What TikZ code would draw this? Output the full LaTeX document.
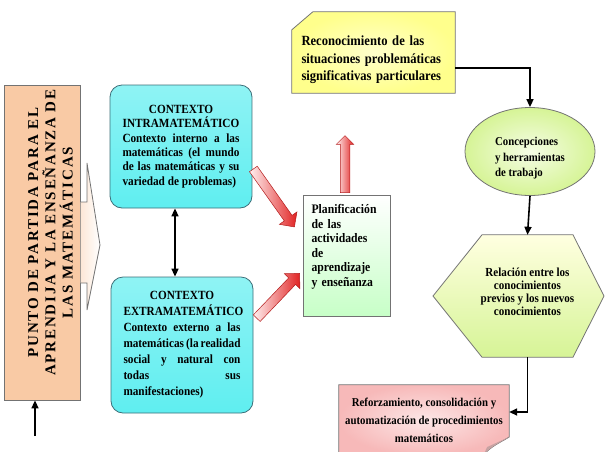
\documentclass[tikz,border=0pt]{standalone}
\usepackage{fontspec}
\setmainfont{Liberation Serif}[FakeStretch=0.9]
\newfontfamily\spacedfont{Liberation Serif}[LetterSpace=12]
\usetikzlibrary{arrows.meta,shapes.arrows,shapes.geometric,calc,backgrounds}
\definecolor{peach}{RGB}{249,202,165}
\definecolor{cyanbox}{RGB}{95,238,240}
\definecolor{cyanline}{RGB}{60,110,120}
\definecolor{yelbox}{RGB}{255,255,140}
\definecolor{limebox}{RGB}{214,244,150}
\definecolor{pinkbox}{RGB}{247,185,185}
\definecolor{arrred}{RGB}{225,35,35}
\begin{document}
\begin{tikzpicture}[x=1pt,y=-1pt,font=\bfseries\fontsize{12.5}{14.3}\selectfont,
  box/.style={draw=black!55,line width=.8pt},
  cbox/.style={box,draw=cyanline,rounded corners=12pt,top color=cyanbox!70!white,bottom color=cyanbox,minimum width=142pt,text width=117pt,align=justify},
  conn/.style={line width=1.6pt,-{Triangle[length=8pt,width=7pt]}},
  fat/.style={single arrow,draw=arrred!80!black,line width=.5pt,left color=red!6,right color=arrred,inner sep=4.5pt,single arrow head extend=6pt}]
\useasboundingbox (0,0) rectangle (605,451);

% punto de partida
\node[box,fill=peach,minimum width=59pt,minimum height=315pt] (punto) at (42.5,242.5)
  {\rotatebox{90}{\hspace*{20pt}\spacedfont\bfseries\fontsize{15}{15.5}\selectfont\def\arraystretch{0.92}\begin{tabular}{@{}c@{}}\rule{0pt}{30pt}PUNTO DE PARTIDA PARA EL\\ APRENDIJA Y LA ENSEÑANZA DE\\ LAS MATEMÁTICAS\end{tabular}}};
\draw[box,left color=peach!45,right color=white] (punto.east |- 0,202) -- (87,202) -- (87,163) -- (100,245) -- (87,310) -- (87,283) -- (punto.east |- 0,283);
\coordinate (foot) at (35,436);
\draw[conn] (foot) -- (foot |- punto.south);

% contextos
\node[cbox,minimum height=123pt] (intra) at (181,146.5) {{\centering CONTEXTO\\ INTRAMATEMÁTICO\par}Contexto interno a las\linebreak matemáticas (el mundo\linebreak de las matemáticas y su\linebreak variedad de problemas)};
\node[cbox,minimum height=136pt,font=\bfseries\fontsize{12.5}{16}\selectfont] (extra) at (182,345) {{\centering CONTEXTO\\ EXTRAMATEMÁTICO\par}Contexto externo a las\linebreak matemáticas (la realidad\linebreak social y natural con\linebreak todas sus\linebreak manifestaciones)};
\draw[line width=1.6pt,{Triangle[length=8pt,width=7pt]}-{Triangle[length=8pt,width=7pt]}] ([xshift=-6pt]intra.south) -- ([xshift=-6pt]intra.south |- extra.north);

% planificacion
\node[box,shading angle=30,top color=white,bottom color=green!22,minimum width=87pt,minimum height=121pt,text width=70pt,align=left,font=\bfseries\fontsize{13}{14.5}\selectfont] (plan) at (346.5,255.5) {Planificación\\ de las\\ actividades\\ de\\ aprendizaje\\ y enseñanza\rule[-20pt]{0pt}{20pt}};
\node[fat,minimum height=71pt,rotate=-54.7] (arrA) at (272.5,196) {};
\node[fat,minimum height=62pt,rotate=46.3] (arrB) at (276.5,297.5) {};
\node[fat,minimum height=57pt,rotate=90,single arrow head extend=4pt] (arrC) at (345,166.5) {};

% reconocimiento
\node[minimum width=163pt,minimum height=81pt,text width=148pt,align=left,font=\bfseries\fontsize{14}{17.5}\selectfont] (recon) at (375.5,52.5) {\rule{0pt}{25pt}Reconocimiento de las\\ situaciones problemáticas\\ significativas particulares};
\node[ellipse,box,inner color=limebox!25!white,outer color=limebox,minimum width=130pt,minimum height=78pt,align=left,font=\bfseries\fontsize{12}{15.5}\selectfont] (conc) at (530,151.5) {\rule{0pt}{22pt}Concepciones\\ y herramientas\\ de trabajo};
\node[minimum width=150pt,minimum height=122pt,align=center,font=\bfseries\fontsize{12.3}{13}\selectfont] (rel) at (527.5,296) {Relación entre los\\ conocimientos\\ previos y los nuevos\\ conocimientos\rule[-8pt]{0pt}{8pt}};
\node[minimum width=170pt,minimum height=70pt,align=center,font=\bfseries\fontsize{12}{18}\selectfont] (refz) at (424,420) {Reforzamiento, consolidación y\\ automatización de procedimientos\\ matemáticos};

\begin{scope}[on background layer]
\draw[box,inner color=yelbox!45!white,outer color=yelbox] ([yshift=-18pt,xshift=-2pt]recon.north west) -- ([xshift=19pt]recon.north west) -- ([xshift=-2pt]recon.north east) -- ([xshift=-2pt]recon.south east) -- ([xshift=-2pt]recon.south west) -- cycle;
\draw[box,top color=yellow!12,bottom color=limebox] ($(rel.north)+(-45.5,0)$) -- ($(rel.north)+(45.5,0)$) -- ($(rel)+(76.5,0)$) -- ($(rel.south)+(45.5,0)$) -- ($(rel.south)+(-45.5,0)$) -- ($(rel)+(-94.5,0)$) -- cycle;
\draw[box,inner color=pinkbox!35!white,outer color=pinkbox] (refz.north west) -- (refz.north east) -- ($(refz.east)+(0,17)$) .. controls ($(refz.east)+(-8,22)$) and ($(refz.east)+(-18,26)$) .. ($(refz.south east)+(-26,0)$) -- (refz.south west) -- cycle;
\fill[pinkbox!60!gray] ($(refz.east)+(0,17)$) -- ($(refz.east)+(-22,27)$) -- ($(refz.south east)+(-26,0)$) .. controls ($(refz.east)+(-18,26)$) and ($(refz.east)+(-8,22)$) .. cycle;
\end{scope}

% conectores
\draw[conn] ([xshift=-2pt,yshift=-15.5pt]recon.east) -| (conc.north);
\draw[conn] (conc.south) -- (rel.north);
\draw[conn] (rel.south) |- ([yshift=8pt]refz.east);
\end{tikzpicture}
\end{document}
